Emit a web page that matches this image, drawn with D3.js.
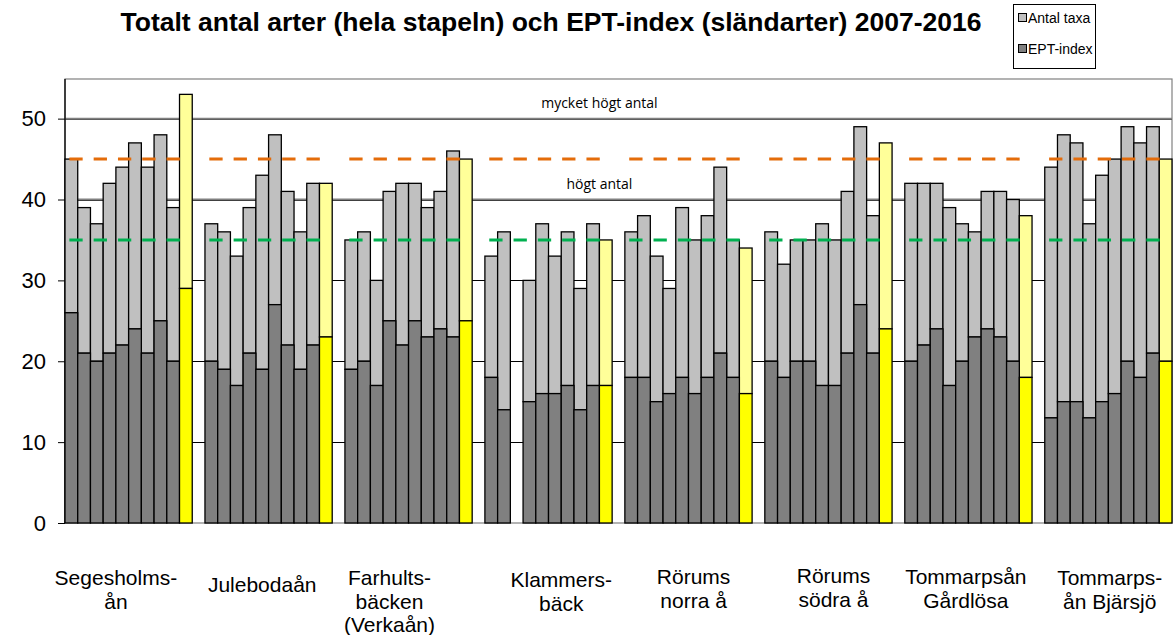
<!DOCTYPE html>
<html><head><meta charset="utf-8">
<script src="https://cdn.jsdelivr.net/npm/d3@7"></script>
<style>body{margin:0;background:#fff;} svg{display:block;}</style>
</head><body>
<svg id="c" width="1173" height="635"></svg>
<script>
const years = [2007,2008,2009,2010,2011,2012,2013,2014,2015,2016];
const sites = ["Segesholms-\nån","Julebodaån","Farhults-\nbäcken\n(Verkaån)","Klammers-\nbäck","Rörums\nnorra å","Rörums\nsödra å","Tommarpsån\nGårdlösa","Tommarps-\nån Bjärsjö"];
// Total number of taxa (whole bar) per site and year
const totalTaxa = [
  [45,39,37,42,44,47,44,48,39,53],
  [37,36,33,39,43,48,41,36,42,42],
  [35,36,30,41,42,42,39,41,46,45],
  [33,36,null,30,37,33,36,29,37,35],
  [36,38,33,29,39,35,38,44,35,34],
  [36,32,35,35,37,35,41,49,38,47],
  [42,42,42,39,37,36,41,41,40,38],
  [44,48,47,37,43,45,49,47,49,45]
];
// EPT-index per site and year
const eptIndex = [
  [26,21,20,21,22,24,21,25,20,29],
  [20,19,17,21,19,27,22,19,22,23],
  [19,20,17,25,22,25,23,24,23,25],
  [18,14,null,15,16,16,17,14,17,17],
  [18,18,15,16,18,16,18,21,18,16],
  [20,18,20,20,17,17,21,27,21,24],
  [20,22,24,17,20,23,24,23,20,18],
  [13,15,15,13,15,16,20,18,21,20]
];
const yTicks = [0,10,20,30,40,50];
const refLevels = [{v:45,color:"#E46C0A"},{v:35,color:"#00B050"}];
const classLines = [{v:50,label:"mycket högt antal"},{v:40,label:"högt antal"}];
const labelSlot = [3.5,15,25,38.5,48.9,59.9,70.3,81.6];
const labelY = [585,592,585,587,584,583,584,585];
const title = "Totalt antal arter (hela stapeln) och EPT-index (sländarter) 2007-2016";
const legendItems = [{name:"Antal taxa",color:"#C0C0C0"},{name:"EPT-index",color:"#808080"}];

const svg = d3.select("#c");
const L=65, R=1172, T=79, B=523;
const nSlots = sites.length*(years.length+1)-1;
const x = d3.scaleBand().domain(d3.range(nSlots)).range([L,R]).paddingInner(0).paddingOuter(0);
const y = d3.scaleLinear().domain([0,54.9]).range([B,T]);
const bw = x.bandwidth();
const slot = (g,i)=>g*(years.length+1)+i;
const slotCenter = s => L + (s+0.5)*bw;

// plot area border
svg.append("rect").attr("x",L).attr("y",T).attr("width",R-L).attr("height",B-T)
  .attr("fill","none").attr("stroke","#808080").attr("stroke-width",1.2);

// gridlines
svg.append("g").selectAll("line").data(yTicks.filter(d=>d>0)).join("line")
  .attr("x1",L).attr("x2",R).attr("y1",d=>Math.round(y(d))+0.5).attr("y2",d=>Math.round(y(d))+0.5)
  .attr("stroke","#000").attr("stroke-width",1);
// class lines
svg.append("g").selectAll("line").data(classLines).join("line")
  .attr("x1",L).attr("x2",R).attr("y1",d=>y(d.v)).attr("y2",d=>y(d.v))
  .attr("stroke","#808080").attr("stroke-width",2);

// y axis
const yAxis = d3.axisLeft(y).tickValues(yTicks).tickSize(7).tickPadding(12).tickFormat(d3.format("d"));
const ga = svg.append("g").attr("transform",`translate(${L},0)`).call(yAxis);
ga.select(".domain").remove();
ga.selectAll(".tick line").attr("stroke","#000");
ga.selectAll(".tick text").attr("font-family","Liberation Sans, Arial").attr("font-size",22).attr("fill","#000");
svg.append("line").attr("x1",L).attr("x2",L).attr("y1",T).attr("y2",B).attr("stroke","#000").attr("stroke-width",1.3);

// bars
const rows=[];
sites.forEach((s,g)=>years.forEach((yr,i)=>{
  if(totalTaxa[g][i]!=null) rows.push({g,i,total:totalTaxa[g][i],ept:eptIndex[g][i],hl:i===years.length-1});
}));
const gb = svg.append("g");
gb.selectAll("rect.tot").data(rows).join("rect").attr("class","tot")
  .attr("x",d=>x(slot(d.g,d.i))).attr("width",bw)
  .attr("y",d=>y(d.total)).attr("height",d=>y(d.ept)-y(d.total))
  .attr("fill",d=>d.hl?"#FFFF99":"#C0C0C0").attr("stroke","#000").attr("stroke-width",1.3);
gb.selectAll("rect.ept").data(rows).join("rect").attr("class","ept")
  .attr("x",d=>x(slot(d.g,d.i))).attr("width",bw)
  .attr("y",d=>y(d.ept)).attr("height",d=>y(0)-y(d.ept))
  .attr("fill",d=>d.hl?"#FFFF00":"#808080").attr("stroke","#000").attr("stroke-width",1.3);

// reference dashed lines per site
const refRows=[];
refLevels.forEach(r=>sites.forEach((s,g)=>refRows.push({g,v:r.v,color:r.color})));
svg.append("g").selectAll("line").data(refRows).join("line")
  .attr("x1",d=>x(slot(d.g,0))+bw/2-2).attr("x2",d=>x(slot(d.g,years.length-1))+bw/2-6)
  .attr("y1",d=>y(d.v)).attr("y2",d=>y(d.v))
  .attr("stroke",d=>d.color).attr("stroke-width",3).attr("stroke-dasharray","13.3,11");

// class labels
svg.append("g").selectAll("text").data(classLines).join("text")
  .attr("x",slotCenter(41.5))
  .attr("y",d=>y(d.v)-11)
  .attr("text-anchor","middle").attr("font-family","Open Sans, Noto Sans").attr("font-size",14).attr("fill","#000")
  .text(d=>d.label);

// category labels
const gl = svg.append("g");
sites.forEach((s,g)=>{
  const cx = slotCenter(labelSlot[g]);
  const t = gl.append("text").attr("x",cx).attr("y",labelY[g])
    .attr("text-anchor","middle").attr("font-family","Liberation Sans, Arial").attr("font-size",21).attr("fill","#000");
  s.split("\n").forEach((ln,k)=>t.append("tspan").attr("x",cx).attr("dy",k?23.5:0).text(ln));
});

// title
svg.append("text").attr("x",551).attr("y",31).attr("text-anchor","middle")
  .attr("font-family","Liberation Sans, Arial").attr("font-weight","bold").attr("font-size",26.5).attr("fill","#000").text(title);

// legend
const lg = svg.append("g");
lg.append("rect").attr("x",1013.5).attr("y",4.5).attr("width",82).attr("height",64).attr("fill","#fff").attr("stroke","#000").attr("stroke-width",1);
legendItems.forEach((it,k)=>{
  const yy = 18 + k*31;
  lg.append("rect").attr("x",1018.5).attr("y",yy-4.5).attr("width",8).attr("height",8).attr("fill",it.color).attr("stroke","#000").attr("stroke-width",1);
  lg.append("text").attr("x",1028).attr("y",yy+5).attr("font-family","Liberation Sans, Arial").attr("font-size",14).attr("fill","#000").text(it.name);
});
</script>
</body></html>
